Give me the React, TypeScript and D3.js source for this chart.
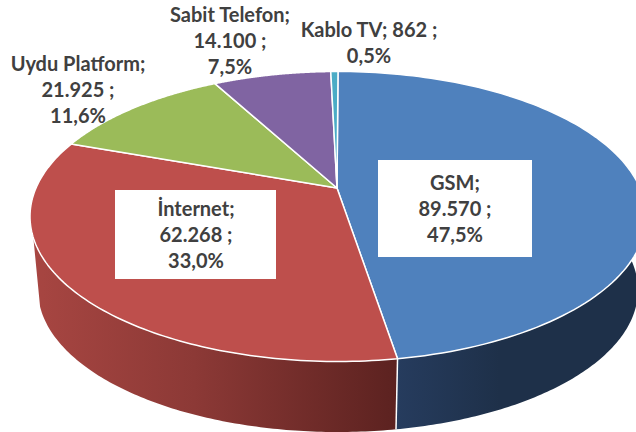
import React from "react";
import * as d3 from "d3";

const categories = ["GSM", "İnternet", "Uydu Platform", "Sabit Telefon", "Kablo TV"];
const values = [89570, 62268, 21925, 14100, 862];
const topColors = ["#4f81bd", "#be4f4c", "#9bbb59", "#8064a2", "#4bacc6"];
const labelLines = [
  ["GSM;", "89.570 ;", "47,5%"],
  ["İnternet;", "62.268 ;", "33,0%"],
  ["Uydu Platform;", "21.925 ;", "11,6%"],
  ["Sabit Telefon;", "14.100 ;", "7,5%"],
  ["Kablo TV; 862 ;", "0,5%"],
];
const labelAnchors = [
  { x: 455, y: 190 },
  { x: 196, y: 216 },
  { x: 78, y: 71 },
  { x: 230, y: 22 },
  { x: 369, y: 37 },
];
const labelBoxes = [
  { x: 378, y: 160, w: 154, h: 97 },
  { x: 115, y: 190, w: 161, h: 89 },
  null,
  null,
  null,
];

const W = 636, H = 432;
const top = { cx: 338, cy: 216.5, rx: 308, ry: 145, apexY: 188 };
const low = { cx: 338, cy: 290, rx: 300, ry: 142 };
const a = (top.cy - top.apexY) / top.ry;
const TAU = Math.PI * 2;

// Perspective mapping of a flat circle onto the top ellipse
function topPoint(t: number): [number, number] {
  const u = Math.sin(t), v = Math.cos(t);
  const d = 1 + a * v;
  const X = (u * Math.sqrt(1 - a * a)) / d;
  const Y = (v + a) / d;
  return [top.cx + top.rx * X, top.cy - top.ry * Y];
}
function lowPoint(t: number): [number, number] {
  return [low.cx + low.rx * Math.sin(t), low.cy - low.ry * Math.cos(t)];
}
function sample(t0: number, t1: number, f: (t: number) => [number, number], n = 120) {
  return d3.range(n + 1).map((i) => f(t0 + ((t1 - t0) * i) / n));
}

const arcs = d3.pie<number>().sort(null).startAngle(0).endAngle(TAU)(values);
const line = d3.line();
const divider = arcs[0].endAngle;
const lowDivider = Math.PI - Math.asin((396 - low.cx) / low.rx);
// where the side wall leaves the top ellipse on the left
const tCorner = d3
  .range(Math.PI, Math.PI * 1.8, 0.002)
  .find((t) => topPoint(t)[1] < 238 && topPoint(t)[0] < 100) as number;

const redSide =
  line([
    ...sample(divider, tCorner, topPoint),
    ...sample(Math.PI * 1.5, lowDivider, lowPoint).slice(8),
  ]) + "Z";
const blueSide =
  line([
    ...sample(Math.PI * 0.4, divider, topPoint),
    ...sample(lowDivider, Math.PI * 0.4, lowPoint),
  ]) + "Z";

const slices = arcs.map(
  (d) => line([[top.cx - 1, top.apexY], ...sample(d.startAngle, d.endAngle, topPoint)]) + "Z"
);

const font = "Lato, 'Open Sans', sans-serif";

export default function App() {
  return (
    <svg
      width={W}
      height={H}
      viewBox={`0 0 ${W} ${H}`}
      style={{ position: "absolute", left: 0, top: 0, display: "block", background: "#fff" }}
    >
      <defs>
        <linearGradient id="redSide" gradientUnits="userSpaceOnUse" x1={30} x2={396} y1={0} y2={0}>
          <stop offset="0" stopColor="#a84642" />
          <stop offset="0.45" stopColor="#8c3936" />
          <stop offset="1" stopColor="#5c2220" />
        </linearGradient>
        <linearGradient id="blueSide" gradientUnits="userSpaceOnUse" x1={396} x2={500} y1={0} y2={0}>
          <stop offset="0" stopColor="#263c5e" />
          <stop offset="1" stopColor="#1e3049" />
        </linearGradient>
      </defs>
      <path d={blueSide} fill="url(#blueSide)" />
      <path d={redSide} fill="url(#redSide)" />
      <path
        d={line([topPoint(divider), lowPoint(lowDivider)]) as string}
        stroke="#fff"
        strokeWidth={1.5}
        fill="none"
      />
      {slices.map((d, i) => (
        <path
          key={categories[i]}
          d={d}
          fill={topColors[i]}
          stroke="#fff"
          strokeWidth={1.5}
          strokeLinejoin="round"
        />
      ))}
      {labelBoxes.map((b, i) =>
        b ? <rect key={i} x={b.x} y={b.y} width={b.w} height={b.h} fill="#fff" /> : null
      )}
      {labelLines.map((lines, i) => (
        <text
          key={categories[i]}
          fontFamily={font}
          fontWeight={700}
          fontSize={20}
          fill="#404040"
          textAnchor="middle"
        >
          {lines.map((l, j) => (
            <tspan key={j} x={labelAnchors[i].x} y={labelAnchors[i].y + j * 26}>
              {l}
            </tspan>
          ))}
        </text>
      ))}
    </svg>
  );
}
